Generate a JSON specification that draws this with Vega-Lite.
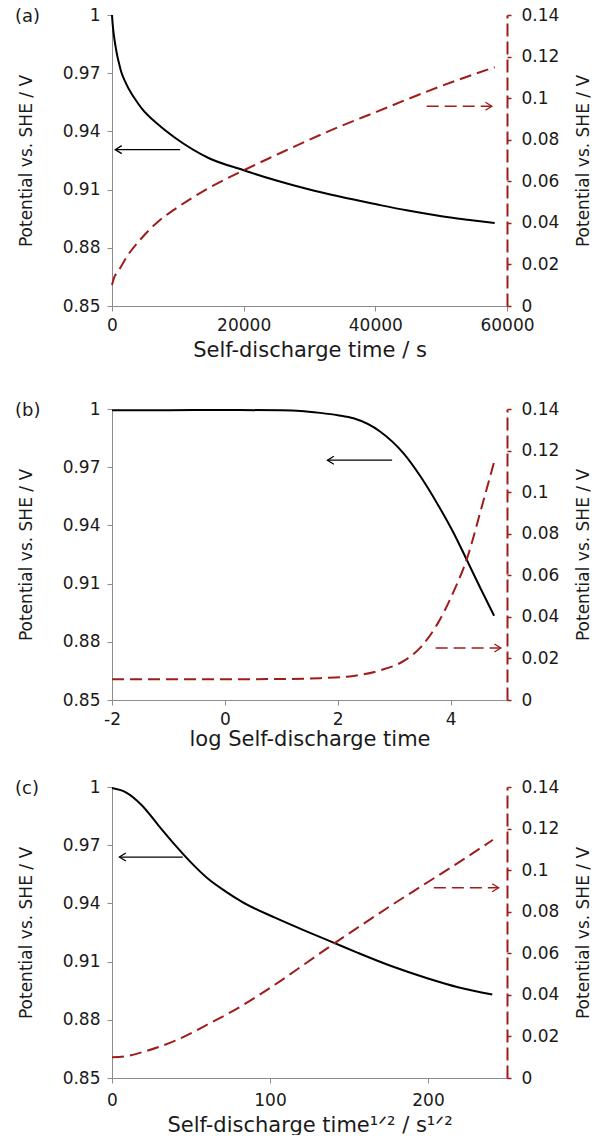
{
  "$schema": "https://vega.github.io/schema/vega-lite/v6.json",
  "padding": {"left": 15, "top": 6, "right": 0, "bottom": 0},
  "background": "white",
  "config": {
    "font": "DejaVu Sans",
    "view": {"stroke": null},
    "line": {"interpolate": "monotone"},
    "axis": {"grid": false, "labelFlush": false, "domainColor": "#8c8c8c", "tickColor": "#8c8c8c", "tickSize": 5, "labelFont": "DejaVu Sans", "labelFontSize": 17, "labelColor": "#1a1a1a", "titleFont": "DejaVu Sans", "titleFontSize": 21, "titleFontWeight": "normal", "titleColor": "#1a1a1a"},
    "title": {"font": "DejaVu Sans", "fontSize": 18, "fontWeight": "normal", "color": "#1a1a1a", "anchor": "start", "frame": "group", "baseline": "middle", "dx": -97, "offset": -20}
  },
  "spacing": 29,
  "bounds": "full",
  "vconcat": [
    {
      "spacing": 103,
      "bounds": "flush",
      "vconcat": [
        {
          "width": 395, "height": 291,
          "title": {"text": "(a)"},
          "data": {"values": [
            {"k": "V", "x": 0, "y": 1.0}, {"k": "V", "x": 50, "y": 0.9975}, {"k": "V", "x": 150, "y": 0.9935}, {"k": "V", "x": 410, "y": 0.9866}, {"k": "V", "x": 600, "y": 0.9826}, {"k": "V", "x": 800, "y": 0.979}, {"k": "V", "x": 1100, "y": 0.9746}, {"k": "V", "x": 1420, "y": 0.9705}, {"k": "V", "x": 2000, "y": 0.9657}, {"k": "V", "x": 2950, "y": 0.9595}, {"k": "V", "x": 3600, "y": 0.9562}, {"k": "V", "x": 4480, "y": 0.952}, {"k": "V", "x": 7020, "y": 0.9435}, {"k": "V", "x": 9570, "y": 0.9367}, {"k": "V", "x": 14660, "y": 0.9263}, {"k": "V", "x": 20000, "y": 0.92}, {"k": "V", "x": 24840, "y": 0.9148}, {"k": "V", "x": 29700, "y": 0.9103}, {"k": "V", "x": 34560, "y": 0.9064}, {"k": "V", "x": 40160, "y": 0.9024}, {"k": "V", "x": 44740, "y": 0.8993}, {"k": "V", "x": 49830, "y": 0.8964}, {"k": "V", "x": 54000, "y": 0.8945}, {"k": "V", "x": 58130, "y": 0.8928},
            {"k": "E", "x": 0, "y": 0.0101}, {"k": "E", "x": 300, "y": 0.0135}, {"k": "E", "x": 916, "y": 0.0166}, {"k": "E", "x": 2440, "y": 0.0246}, {"k": "E", "x": 4480, "y": 0.0326}, {"k": "E", "x": 7020, "y": 0.0407}, {"k": "E", "x": 9570, "y": 0.0466}, {"k": "E", "x": 14660, "y": 0.0567}, {"k": "E", "x": 20000, "y": 0.0653}, {"k": "E", "x": 24840, "y": 0.0725}, {"k": "E", "x": 29700, "y": 0.0796}, {"k": "E", "x": 34560, "y": 0.0863}, {"k": "E", "x": 40160, "y": 0.0934}, {"k": "E", "x": 44740, "y": 0.0993}, {"k": "E", "x": 49830, "y": 0.1056}, {"k": "E", "x": 58130, "y": 0.1149},
            {"k": "Va", "x": 504, "y": 0.9306}, {"k": "Va", "x": 10350, "y": 0.9306}, {"k": "Vh", "x": 504, "y": 0.9306},
            {"k": "Ea", "x": 47800, "y": 0.0961}, {"k": "Ea", "x": 57700, "y": 0.0961}, {"k": "Eh", "x": 57700, "y": 0.0961}
          ]},
          "layer": [
            {"layer": [
              {"transform": [{"filter": "datum.k === 'V'"}], "mark": {"type": "line", "color": "black", "strokeWidth": 2},
               "encoding": {
                 "x": {"field": "x", "type": "quantitative", "scale": {"domain": [0, 60000], "nice": false}, "axis": {"values": [0, 20000, 40000, 60000], "labelExpr": "'' + datum.value", "title": "Self-discharge time / s", "labelPadding": 6, "titlePadding": 6}},
                 "y": {"field": "y", "type": "quantitative", "scale": {"domain": [0.85, 1], "nice": false, "zero": false}, "axis": {"values": [0.85, 0.88, 0.91, 0.94, 0.97, 1], "labelExpr": "'' + datum.value", "title": "Potential vs. SHE / V", "titleFontSize": 17, "labelPadding": 7, "titlePadding": 27}}}},
              {"transform": [{"filter": "datum.k === 'Va'"}], "mark": {"type": "line", "color": "black", "strokeWidth": 1.3, "interpolate": "linear"},
               "encoding": {"x": {"field": "x", "type": "quantitative", "scale": {"domain": [0, 60000], "nice": false}}, "y": {"field": "y", "type": "quantitative", "scale": {"domain": [0.85, 1], "nice": false, "zero": false}}}},
              {"transform": [{"filter": "datum.k === 'Vh'"}], "mark": {"type": "point", "shape": "M1.6,-1L0,0L1.6,1", "filled": false, "size": 64, "stroke": "black", "strokeWidth": 1.3, "opacity": 1},
               "encoding": {"x": {"field": "x", "type": "quantitative", "scale": {"domain": [0, 60000], "nice": false}}, "y": {"field": "y", "type": "quantitative", "scale": {"domain": [0.85, 1], "nice": false, "zero": false}}}}
            ]},
            {"layer": [
              {"transform": [{"filter": "datum.k === 'E'"}], "mark": {"type": "line", "color": "#a01c1c", "strokeWidth": 2, "strokeDash": [12, 6]},
               "encoding": {
                 "x": {"field": "x", "type": "quantitative", "scale": {"domain": [0, 60000], "nice": false}},
                 "y": {"field": "y", "type": "quantitative", "scale": {"domain": [0, 0.14], "nice": false}, "axis": {"orient": "right", "values": [0, 0.02, 0.04, 0.06, 0.08, 0.1, 0.12, 0.14], "labelExpr": "'' + datum.value", "title": "Potential vs. SHE / V", "titleFontSize": 17, "domainColor": "#a01c1c", "domainDash": [13, 5], "domainWidth": 2, "tickColor": "#a01c1c", "tickWidth": 1.5, "tickSize": 4, "labelPadding": 10, "titleAngle": 270, "titleBaseline": "top", "titlePadding": 17}}}},
              {"transform": [{"filter": "datum.k === 'Ea'"}], "mark": {"type": "line", "color": "#a01c1c", "strokeWidth": 1.5, "strokeDash": [12, 6], "interpolate": "linear"},
               "encoding": {"x": {"field": "x", "type": "quantitative", "scale": {"domain": [0, 60000], "nice": false}}, "y": {"field": "y", "type": "quantitative", "scale": {"domain": [0, 0.14], "nice": false}}}},
              {"transform": [{"filter": "datum.k === 'Eh'"}], "mark": {"type": "point", "shape": "M-1.6,-1L0,0L-1.6,1", "filled": false, "size": 64, "stroke": "#a01c1c", "strokeWidth": 1.3, "opacity": 1},
               "encoding": {"x": {"field": "x", "type": "quantitative", "scale": {"domain": [0, 60000], "nice": false}}, "y": {"field": "y", "type": "quantitative", "scale": {"domain": [0, 0.14], "nice": false}}}}
            ]}
          ],
          "resolve": {"scale": {"y": "independent"}}
        },
        {
          "width": 395, "height": 291,
          "title": {"text": "(b)"},
          "data": {"values": [
            {"k": "V", "x": -2, "y": 0.9993}, {"k": "V", "x": -1, "y": 0.9994}, {"k": "V", "x": 0, "y": 0.9995}, {"k": "V", "x": 1, "y": 0.9993}, {"k": "V", "x": 1.335, "y": 0.999}, {"k": "V", "x": 1.689, "y": 0.998}, {"k": "V", "x": 2.0, "y": 0.9968}, {"k": "V", "x": 2.281, "y": 0.9952}, {"k": "V", "x": 2.756, "y": 0.9883}, {"k": "V", "x": 3.171, "y": 0.977}, {"k": "V", "x": 3.468, "y": 0.9652}, {"k": "V", "x": 3.765, "y": 0.9512}, {"k": "V", "x": 4.061, "y": 0.9357}, {"k": "V", "x": 4.299, "y": 0.9215}, {"k": "V", "x": 4.536, "y": 0.9072}, {"k": "V", "x": 4.772, "y": 0.8934},
            {"k": "E", "x": -2, "y": 0.01}, {"k": "E", "x": 0, "y": 0.01}, {"k": "E", "x": 1, "y": 0.0101}, {"k": "E", "x": 1.689, "y": 0.0105}, {"k": "E", "x": 2.281, "y": 0.0116}, {"k": "E", "x": 2.756, "y": 0.0143}, {"k": "E", "x": 3.171, "y": 0.0188}, {"k": "E", "x": 3.468, "y": 0.0253}, {"k": "E", "x": 3.765, "y": 0.0365}, {"k": "E", "x": 4.061, "y": 0.0526}, {"k": "E", "x": 4.299, "y": 0.0687}, {"k": "E", "x": 4.536, "y": 0.0913}, {"k": "E", "x": 4.78, "y": 0.1154},
            {"k": "Va", "x": 1.818, "y": 0.9736}, {"k": "Va", "x": 2.964, "y": 0.9736}, {"k": "Vh", "x": 1.818, "y": 0.9736},
            {"k": "Ea", "x": 3.735, "y": 0.025}, {"k": "Ea", "x": 4.891, "y": 0.025}, {"k": "Eh", "x": 4.891, "y": 0.025}
          ]},
          "layer": [
            {"layer": [
              {"transform": [{"filter": "datum.k === 'V'"}], "mark": {"type": "line", "color": "black", "strokeWidth": 2},
               "encoding": {
                 "x": {"field": "x", "type": "quantitative", "scale": {"domain": [-2, 5], "nice": false, "zero": false}, "axis": {"values": [-2, 0, 2, 4], "labelExpr": "'' + datum.value", "title": "log Self-discharge time", "labelPadding": 6, "titlePadding": 1}},
                 "y": {"field": "y", "type": "quantitative", "scale": {"domain": [0.85, 1], "nice": false, "zero": false}, "axis": {"values": [0.85, 0.88, 0.91, 0.94, 0.97, 1], "labelExpr": "'' + datum.value", "title": "Potential vs. SHE / V", "titleFontSize": 17, "labelPadding": 7, "titlePadding": 27}}}},
              {"transform": [{"filter": "datum.k === 'Va'"}], "mark": {"type": "line", "color": "black", "strokeWidth": 1.3, "interpolate": "linear"},
               "encoding": {"x": {"field": "x", "type": "quantitative", "scale": {"domain": [-2, 5], "nice": false, "zero": false}}, "y": {"field": "y", "type": "quantitative", "scale": {"domain": [0.85, 1], "nice": false, "zero": false}}}},
              {"transform": [{"filter": "datum.k === 'Vh'"}], "mark": {"type": "point", "shape": "M1.6,-1L0,0L1.6,1", "filled": false, "size": 64, "stroke": "black", "strokeWidth": 1.3, "opacity": 1},
               "encoding": {"x": {"field": "x", "type": "quantitative", "scale": {"domain": [-2, 5], "nice": false, "zero": false}}, "y": {"field": "y", "type": "quantitative", "scale": {"domain": [0.85, 1], "nice": false, "zero": false}}}}
            ]},
            {"layer": [
              {"transform": [{"filter": "datum.k === 'E'"}], "mark": {"type": "line", "color": "#a01c1c", "strokeWidth": 2, "strokeDash": [12, 6]},
               "encoding": {
                 "x": {"field": "x", "type": "quantitative", "scale": {"domain": [-2, 5], "nice": false, "zero": false}},
                 "y": {"field": "y", "type": "quantitative", "scale": {"domain": [0, 0.14], "nice": false}, "axis": {"orient": "right", "values": [0, 0.02, 0.04, 0.06, 0.08, 0.1, 0.12, 0.14], "labelExpr": "'' + datum.value", "title": "Potential vs. SHE / V", "titleFontSize": 17, "domainColor": "#a01c1c", "domainDash": [13, 5], "domainWidth": 2, "tickColor": "#a01c1c", "tickWidth": 1.5, "tickSize": 4, "labelPadding": 10, "titleAngle": 270, "titleBaseline": "top", "titlePadding": 17}}}},
              {"transform": [{"filter": "datum.k === 'Ea'"}], "mark": {"type": "line", "color": "#a01c1c", "strokeWidth": 1.5, "strokeDash": [12, 6], "interpolate": "linear"},
               "encoding": {"x": {"field": "x", "type": "quantitative", "scale": {"domain": [-2, 5], "nice": false, "zero": false}}, "y": {"field": "y", "type": "quantitative", "scale": {"domain": [0, 0.14], "nice": false}}}},
              {"transform": [{"filter": "datum.k === 'Eh'"}], "mark": {"type": "point", "shape": "M-1.6,-1L0,0L-1.6,1", "filled": false, "size": 64, "stroke": "#a01c1c", "strokeWidth": 1.3, "opacity": 1},
               "encoding": {"x": {"field": "x", "type": "quantitative", "scale": {"domain": [-2, 5], "nice": false, "zero": false}}, "y": {"field": "y", "type": "quantitative", "scale": {"domain": [0, 0.14], "nice": false}}}}
            ]}
          ],
          "resolve": {"scale": {"y": "independent"}}
        }
      ]
    },
    {
      "width": 395, "height": 291,
      "title": {"text": "(c)"},
      "data": {"values": [
        {"k": "V", "x": 0, "y": 0.9995}, {"k": "V", "x": 8.5, "y": 0.9974}, {"k": "V", "x": 19, "y": 0.9905}, {"k": "V", "x": 29.6, "y": 0.98}, {"k": "V", "x": 40.1, "y": 0.9699}, {"k": "V", "x": 50.7, "y": 0.9605}, {"k": "V", "x": 61.2, "y": 0.9524}, {"k": "V", "x": 71.8, "y": 0.9462}, {"k": "V", "x": 82.3, "y": 0.9408}, {"k": "V", "x": 103.5, "y": 0.9325}, {"k": "V", "x": 124.2, "y": 0.9252}, {"k": "V", "x": 139.8, "y": 0.9199}, {"k": "V", "x": 155.6, "y": 0.9145}, {"k": "V", "x": 176.7, "y": 0.9077}, {"k": "V", "x": 200, "y": 0.9013}, {"k": "V", "x": 219, "y": 0.8968}, {"k": "V", "x": 240.7, "y": 0.893},
        {"k": "E", "x": 0, "y": 0.01}, {"k": "E", "x": 10.6, "y": 0.0107}, {"k": "E", "x": 19, "y": 0.0124}, {"k": "E", "x": 40.1, "y": 0.018}, {"k": "E", "x": 61.2, "y": 0.026}, {"k": "E", "x": 82.3, "y": 0.0348}, {"k": "E", "x": 103.5, "y": 0.0451}, {"k": "E", "x": 122.5, "y": 0.0551}, {"k": "E", "x": 139.8, "y": 0.0643}, {"k": "E", "x": 155.6, "y": 0.0724}, {"k": "E", "x": 176.7, "y": 0.083}, {"k": "E", "x": 200, "y": 0.0943}, {"k": "E", "x": 219, "y": 0.1035}, {"k": "E", "x": 241.1, "y": 0.1146},
        {"k": "Va", "x": 4.7, "y": 0.9639}, {"k": "Va", "x": 44.8, "y": 0.9639}, {"k": "Vh", "x": 4.7, "y": 0.9639},
        {"k": "Ea", "x": 203.7, "y": 0.0915}, {"k": "Ea", "x": 244.7, "y": 0.0915}, {"k": "Eh", "x": 244.7, "y": 0.0915}
      ]},
      "layer": [
        {"layer": [
          {"transform": [{"filter": "datum.k === 'V'"}], "mark": {"type": "line", "color": "black", "strokeWidth": 2},
           "encoding": {
             "x": {"field": "x", "type": "quantitative", "scale": {"domain": [0, 250], "nice": false}, "axis": {"values": [0, 100, 200], "labelExpr": "'' + datum.value", "title": "Self-discharge time¹ᐟ² / s¹ᐟ²", "labelPadding": 9, "titlePadding": 6}},
             "y": {"field": "y", "type": "quantitative", "scale": {"domain": [0.85, 1], "nice": false, "zero": false}, "axis": {"values": [0.85, 0.88, 0.91, 0.94, 0.97, 1], "labelExpr": "'' + datum.value", "title": "Potential vs. SHE / V", "titleFontSize": 17, "labelPadding": 7, "titlePadding": 27}}}},
          {"transform": [{"filter": "datum.k === 'Va'"}], "mark": {"type": "line", "color": "black", "strokeWidth": 1.3, "interpolate": "linear"},
           "encoding": {"x": {"field": "x", "type": "quantitative", "scale": {"domain": [0, 250], "nice": false}}, "y": {"field": "y", "type": "quantitative", "scale": {"domain": [0.85, 1], "nice": false, "zero": false}}}},
          {"transform": [{"filter": "datum.k === 'Vh'"}], "mark": {"type": "point", "shape": "M1.6,-1L0,0L1.6,1", "filled": false, "size": 64, "stroke": "black", "strokeWidth": 1.3, "opacity": 1},
           "encoding": {"x": {"field": "x", "type": "quantitative", "scale": {"domain": [0, 250], "nice": false}}, "y": {"field": "y", "type": "quantitative", "scale": {"domain": [0.85, 1], "nice": false, "zero": false}}}}
        ]},
        {"layer": [
          {"transform": [{"filter": "datum.k === 'E'"}], "mark": {"type": "line", "color": "#a01c1c", "strokeWidth": 2, "strokeDash": [12, 6]},
           "encoding": {
             "x": {"field": "x", "type": "quantitative", "scale": {"domain": [0, 250], "nice": false}},
             "y": {"field": "y", "type": "quantitative", "scale": {"domain": [0, 0.14], "nice": false}, "axis": {"orient": "right", "values": [0, 0.02, 0.04, 0.06, 0.08, 0.1, 0.12, 0.14], "labelExpr": "'' + datum.value", "title": "Potential vs. SHE / V", "titleFontSize": 17, "domainColor": "#a01c1c", "domainDash": [13, 5], "domainWidth": 2, "tickColor": "#a01c1c", "tickWidth": 1.5, "tickSize": 4, "labelPadding": 10, "titleAngle": 270, "titleBaseline": "top", "titlePadding": 17}}}},
          {"transform": [{"filter": "datum.k === 'Ea'"}], "mark": {"type": "line", "color": "#a01c1c", "strokeWidth": 1.5, "strokeDash": [12, 6], "interpolate": "linear"},
           "encoding": {"x": {"field": "x", "type": "quantitative", "scale": {"domain": [0, 250], "nice": false}}, "y": {"field": "y", "type": "quantitative", "scale": {"domain": [0, 0.14], "nice": false}}}},
          {"transform": [{"filter": "datum.k === 'Eh'"}], "mark": {"type": "point", "shape": "M-1.6,-1L0,0L-1.6,1", "filled": false, "size": 64, "stroke": "#a01c1c", "strokeWidth": 1.3, "opacity": 1},
           "encoding": {"x": {"field": "x", "type": "quantitative", "scale": {"domain": [0, 250], "nice": false}}, "y": {"field": "y", "type": "quantitative", "scale": {"domain": [0, 0.14], "nice": false}}}}
        ]}
      ],
      "resolve": {"scale": {"y": "independent"}}
    }
  ]
}
